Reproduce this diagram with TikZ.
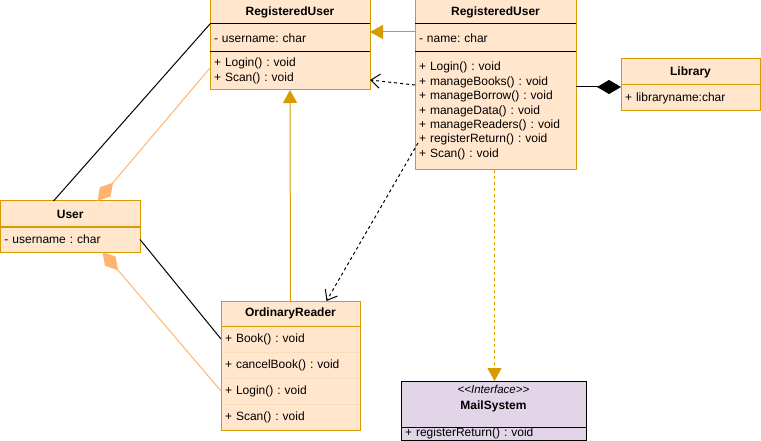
\documentclass[tikz,border=0pt]{standalone}
\usepackage{fontspec}
\setmainfont{Liberation Sans}
\usetikzlibrary{arrows.meta}
\definecolor{umlfill}{HTML}{FFE6CC}
\definecolor{umlline}{HTML}{D79B00}
\definecolor{umlsoft}{HTML}{FFB570}
\definecolor{umlrow}{HTML}{F7DDBC}
\definecolor{ifill}{HTML}{E1D5E7}
\frenchspacing

\begin{document}
\begin{tikzpicture}[x=1pt, y=-1pt, line width=1pt,
    cls/.style={rectangle, draw=umlline, fill=umlfill, anchor=north west, inner xsep=4pt, inner ysep=0pt, outer sep=0pt, font=\fontsize{12}{14.4}\selectfont},
    clstitle/.style={cls, font=\fontsize{12}{14.4}\selectfont\bfseries, align=center},
    clsrow/.style={cls, align=left},
    inherit/.style={-{Triangle[length=13pt,width=14pt]}, draw=umlline},
    uses/.style={-{Straight Barb[length=9pt,width=14pt]}, dash pattern=on 3pt off 3pt, black},
    whole/.style={{Diamond[length=24pt,width=14pt]}-}]

    \useasboundingbox (0,0) rectangle (761,441);

    \node[clstitle, minimum width=160pt, minimum height=24pt] (ru1) at (210,0) {RegisteredUser};
    \node[clsrow, text width=152pt, minimum height=28pt] (ru1attr) at (210,24) {- username: char};
    \node[clsrow, text width=152pt, minimum height=38pt] (ru1ops) at (210,52) {+ Login() : void\\+ Scan() : void};
    \draw (ru1attr.north west) -- (ru1attr.north east);
    \draw (ru1ops.north west) -- (ru1ops.north east);

    \node[clstitle, minimum width=161pt, minimum height=24pt] (ru2) at (415,0) {RegisteredUser};
    \node[clsrow, text width=153pt, minimum height=28pt] (ru2attr) at (415,24) {- name: char};
    \node[clsrow, text width=153pt, minimum height=118pt] (ru2ops) at (415,52) {+ Login() : void\\+ manageBooks() : void\\+ manageBorrow() : void\\+ manageData() : void\\+ manageReaders() : void\\+ registerReturn() : void\\+ Scan() : void};
    \draw (ru2attr.north west) -- (ru2attr.north east);
    \draw (ru2ops.north west) -- (ru2ops.north east);

    \node[clstitle, minimum width=139pt, minimum height=26pt] (lib) at (621,59) {Library};
    \node[clsrow, text width=131pt, minimum height=26pt] (libattr) at (621,85) {+ libraryname:char};

    \node[clstitle, minimum width=139.5pt, minimum height=26pt] (usr) at (0.5,201) {User};
    \node[clsrow, text width=131.5pt, minimum height=25pt] (usrattr) at (0.5,227) {- username : char};

    \node[clstitle, minimum width=139pt, minimum height=25pt] (ord) at (221,301) {OrdinaryReader};
    \node[clsrow, draw=umlrow, text width=131pt, minimum height=26pt] (ord1) at (221,326) {+ Book() : void};
    \node[clsrow, draw=umlrow, text width=131pt, minimum height=26pt] (ord2) at (221,352) {+ cancelBook() : void};
    \node[clsrow, draw=umlrow, text width=131pt, minimum height=26pt] (ord3) at (221,378) {+ Login() : void};
    \node[clsrow, draw=umlrow, text width=131pt, minimum height=26pt] (ord4) at (221,404) {+ Scan() : void};
    \draw[umlline] (ord.north west) rectangle (ord4.south east);
    \draw[umlline] (ord1.north west) -- (ord1.north east);

    \node[clstitle, draw=black, fill=ifill, minimum width=185pt, minimum height=46pt] (mail) at (401,381) {};
    \node[align=center, font=\fontsize{12}{16}\selectfont\bfseries] (mailname) at ([yshift=5pt]mail.center) {{\mdseries\itshape\fontsize{11.5}{12}\selectfont <\kern0pt<Interface>\kern0pt>}\\MailSystem};
    \node[clsrow, draw=black, fill=ifill, text width=177pt, minimum height=13pt] (mailops) at (401,427) {+ registerReturn() : void};

    \draw[inherit] ([yshift=6pt]ru2attr.west) -- ([yshift=6pt]ru1attr.east);
    \draw[inherit] (ord.north) -- (ru1ops.south);
    \draw[inherit, dash pattern=on 3pt off 3pt] ([xshift=-1pt]ru2ops.south) -- ([xshift=-1pt]ru2ops.south |- mail.north);

    \draw[uses] ([yshift=26pt]ru2ops.west) -- ([yshift=-9pt]ru1ops.east);
    \draw[uses] ([yshift=-32pt,xshift=3pt]ru2ops.west) -- ([xshift=36pt]ord.north);

    \draw[whole] ([yshift=-2pt]libattr.north west) -- ([yshift=-2pt]ru2ops.east |- libattr.north);

    \draw ([xshift=53pt]usr.north west) -- (ru1.south west);
    \draw (usrattr.east) -- (ord1.west);

    \draw[whole, umlsoft] ([xshift=97pt]usr.north west) -- ([yshift=3pt]ru1ops.west);
    \draw[whole, umlsoft] ([xshift=102pt]usrattr.south west) -- (ord3.west);

\end{tikzpicture}
\end{document}
